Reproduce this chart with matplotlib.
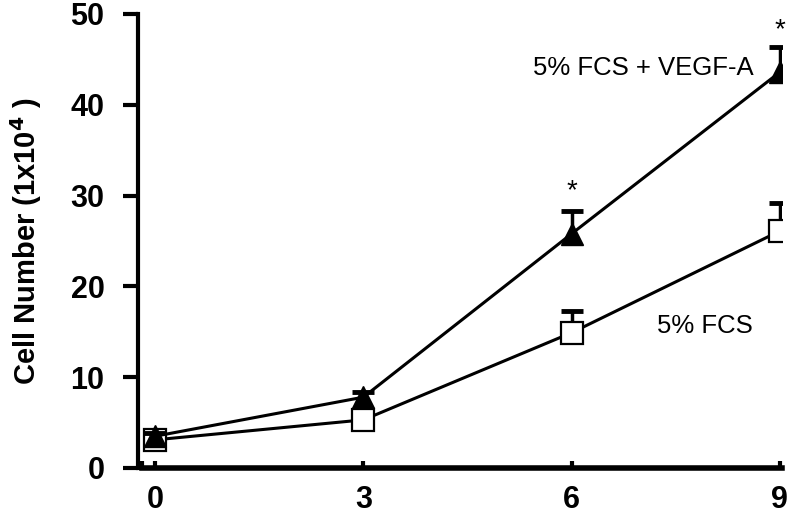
import matplotlib
matplotlib.use("Agg")
import matplotlib.pyplot as plt

days = [0, 3, 6, 9]
fcs = [3.1, 5.3, 14.9, 26.1]
fcs_err = [0.4, 0.5, 2.4, 3.1]
vegf = [3.5, 7.8, 25.8, 43.6]
vegf_err = [0.4, 0.6, 2.5, 2.8]
xticks = [0, 3, 6, 9]
yticks = [0, 10, 20, 30, 40, 50]
label_vegf = "5% FCS + VEGF-A"
label_fcs = "5% FCS"
star_x = [6, 9]
star_y = [30.5, 48.2]

plt.rcParams['font.family'] = ['Liberation Sans', 'DejaVu Sans']

fig = plt.figure(figsize=(8, 5.17), dpi=100)
ax = fig.add_axes([0.1775, 0.0948, 0.8, 0.973 - 0.0948])

for s in ['top', 'right']:
    ax.spines[s].set_visible(False)
ax.spines['left'].set_position(('outward', 3))
ax.spines['left'].set_linewidth(3)
ax.spines['bottom'].set_linewidth(4)

# FCS series (open squares)
c1 = ax.errorbar(days, fcs, yerr=[[0]*len(fcs), fcs_err], fmt='none', ecolor='black',
                 elinewidth=2.5, capsize=8, capthick=3.5, zorder=2)
c1.lines[1][0].set_visible(False)
ax.plot(days, fcs, color='black', lw=2.2, marker='s', markersize=16.5,
        markerfacecolor='white', markeredgecolor='black', markeredgewidth=1.6, zorder=3)

# VEGF series (filled triangles)
c2 = ax.errorbar(days, vegf, yerr=[[0]*len(vegf), vegf_err], fmt='none', ecolor='black',
                 elinewidth=2.5, capsize=8, capthick=3.5, zorder=4)
c2.lines[1][0].set_visible(False)
ax.plot(days, vegf, color='black', lw=2.2, marker='^', markersize=16,
        markerfacecolor='black', markeredgecolor='black', markeredgewidth=1.0, zorder=5)

for sx, sy in zip(star_x, star_y):
    ax.text(sx, sy, '*', ha='center', va='center', fontsize=20)

ax.text(5.44, 44.1, label_vegf, ha='left', va='center', fontsize=18.5)
ax.text(7.23, 15.6, label_fcs, ha='left', va='center', fontsize=18.5)

ax.set_xlim(-0.19, 9.03)
ax.set_ylim(0, 50)
ax.set_xticks(xticks)
ax.set_xticks([-0.19], minor=True)
ax.set_yticks(yticks)
ax.set_xticklabels([str(v) for v in xticks], fontsize=22, fontweight='bold')
ax.set_yticklabels([str(v) for v in yticks], fontsize=22, fontweight='bold')

ax.tick_params(axis='y', direction='out', length=11, width=3, pad=13)
ax.tick_params(axis='x', which='major', direction='in', length=5, width=3, pad=12)
ax.tick_params(axis='x', which='minor', direction='in', length=5, width=3)

ax.set_ylabel('Cell Number (1x10$^{\\mathbf{4}}$ )', fontsize=21, fontweight='bold', labelpad=19)

fig.savefig('out.png', dpi=100)
